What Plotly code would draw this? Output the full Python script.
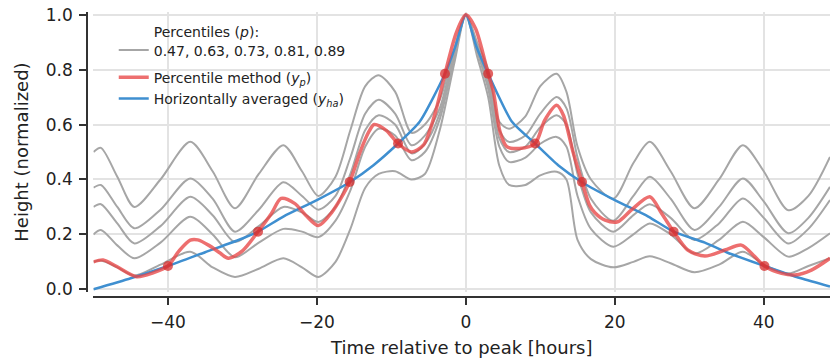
import plotly.graph_objects as go

# ---- data ----
t_knots = [-50, -49, -46.8, -44.5, -41, -37, -34, -31, -27.8, -24.5, -22, -19.8, -17.5, -15.5,
           -13.5, -11.7, -9.5, -7.3, -5.5, -3.5, -1.5, 0, 1.5, 3, 4.5, 5.8, 8, 10, 12.2, 13.5,
           15, 16.8, 19.8, 22.5, 24.7, 27.5, 30.7, 34, 37.2, 40, 43.3, 46, 48.9]

p89 = [0.50, 0.515, 0.41, 0.30, 0.40, 0.537, 0.43, 0.295, 0.42, 0.525, 0.43, 0.34, 0.41, 0.58,
       0.74, 0.78, 0.72, 0.57, 0.60, 0.69, 0.88, 1.0, 0.90, 0.80, 0.61, 0.585, 0.63, 0.74, 0.785,
       0.72, 0.52, 0.40, 0.33, 0.46, 0.537, 0.43, 0.295, 0.40, 0.525, 0.43, 0.288, 0.34, 0.482]
p81 = [0.37, 0.38, 0.30, 0.222, 0.29, 0.404, 0.33, 0.21, 0.29, 0.39, 0.34, 0.29, 0.34, 0.48,
       0.64, 0.69, 0.64, 0.525, 0.56, 0.66, 0.87, 1.0, 0.89, 0.77, 0.58, 0.537, 0.56, 0.64, 0.70,
       0.66, 0.48, 0.33, 0.25, 0.34, 0.41, 0.33, 0.216, 0.30, 0.404, 0.32, 0.204, 0.26, 0.373]
p73 = [0.30, 0.31, 0.24, 0.167, 0.23, 0.337, 0.27, 0.172, 0.23, 0.30, 0.28, 0.245, 0.30, 0.42,
       0.58, 0.634, 0.60, 0.495, 0.53, 0.64, 0.86, 1.0, 0.88, 0.75, 0.55, 0.50, 0.52, 0.59, 0.634,
       0.60, 0.42, 0.28, 0.21, 0.27, 0.31, 0.26, 0.18, 0.24, 0.331, 0.26, 0.167, 0.22, 0.325]
p63 = [0.20, 0.216, 0.16, 0.113, 0.17, 0.264, 0.20, 0.117, 0.17, 0.22, 0.21, 0.19, 0.25, 0.36,
       0.52, 0.585, 0.56, 0.47, 0.50, 0.62, 0.85, 1.0, 0.87, 0.73, 0.52, 0.464, 0.48, 0.53, 0.555,
       0.52, 0.34, 0.22, 0.155, 0.20, 0.24, 0.20, 0.13, 0.18, 0.246, 0.19, 0.119, 0.15, 0.204]
p47 = [0.10, 0.105, 0.08, 0.05, 0.09, 0.137, 0.08, 0.045, 0.075, 0.113, 0.08, 0.045, 0.10, 0.22,
       0.37, 0.42, 0.43, 0.40, 0.42, 0.58, 0.83, 1.0, 0.85, 0.70, 0.45, 0.38, 0.38, 0.415, 0.428,
       0.40, 0.18, 0.11, 0.08, 0.10, 0.12, 0.095, 0.062, 0.09, 0.137, 0.09, 0.058, 0.085, 0.113]

red_t = [-50, -48.7, -47, -44.2, -42, -40, -38.5, -37, -36, -34.5, -33, -31.9, -30, -27.9, -26.1,
         -24.8, -23, -21.5, -19.8, -18, -15.6, -14.2, -13, -12.3, -10.7, -9.1, -7.3, -5.7, -4.2,
         -2.8, -1.25, 0, 1.3, 3.0, 3.7, 4.6, 5.5, 7.2, 9.3, 10.6, 12.2, 13.1, 14.4, 15.6, 16.6,
         17.3, 18.7, 20.4, 22.2, 24.7, 26.3, 27.9, 29.8, 32.1, 34.8, 37.0, 38.8, 40.1, 42.4, 44.2,
         46.4, 48.9]
red_y = [0.10, 0.107, 0.085, 0.046, 0.06, 0.085, 0.14, 0.179, 0.18, 0.16, 0.132, 0.113, 0.14,
         0.21, 0.276, 0.331, 0.313, 0.27, 0.232, 0.28, 0.391, 0.50, 0.575, 0.60, 0.579, 0.531,
         0.50, 0.525, 0.634, 0.785, 0.937, 1.0, 0.95, 0.785, 0.72, 0.573, 0.52, 0.513, 0.531,
         0.616, 0.67, 0.634, 0.50, 0.391, 0.307, 0.28, 0.252, 0.246, 0.288, 0.337, 0.276, 0.21,
         0.143, 0.121, 0.143, 0.161, 0.119, 0.085, 0.058, 0.052, 0.07, 0.113]

blue_t = [-50, -45, -40, -35, -30, -27.9, -24.5, -20, -15.6, -12.4, -9.1, -6.2, -2.8, -1.4, 0,
          1.4, 3.0, 6.2, 9.3, 12.4, 15.6, 20, 24.5, 27.9, 32.1, 35, 40.1, 45, 48.9]
blue_y = [0.0, 0.04, 0.085, 0.135, 0.185, 0.21, 0.265, 0.325, 0.39, 0.452, 0.531, 0.61, 0.785,
          0.885, 1.0, 0.885, 0.785, 0.61, 0.531, 0.452, 0.39, 0.325, 0.265, 0.21, 0.17, 0.135,
          0.085, 0.04, 0.01]

cross_t = [-40, -27.9, -15.6, -9.1, -2.8, 3.0, 9.3, 15.6, 27.9, 40.1]
cross_y = [0.085, 0.21, 0.391, 0.531, 0.785, 0.785, 0.531, 0.391, 0.21, 0.085]

x_ticks = [-40, -20, 0, 20, 40]
y_ticks = [0.0, 0.2, 0.4, 0.6, 0.8, 1.0]
y_ticklabels = ["0.0", "0.2", "0.4", "0.6", "0.8", "1.0"]

GRAY = "#a6a6a6"
RED = "rgba(232,70,70,0.78)"
BLUE = "#3f8fd0"

fig = go.Figure()
for i, ys in enumerate([p47, p63, p73, p81, p89]):
    fig.add_trace(go.Scatter(
        x=t_knots, y=ys, mode="lines",
        line=dict(color=GRAY, width=2, shape="spline", smoothing=0.8),
        name="Percentiles (<i>p</i>):<br>0.47, 0.63, 0.73, 0.81, 0.89",
        legendgroup="pct", showlegend=(i == 0), legendrank=1, hoverinfo="skip"))

fig.add_trace(go.Scatter(
    x=blue_t, y=blue_y, mode="lines",
    line=dict(color=BLUE, width=2.5, shape="spline", smoothing=0.6),
    name="Horizontally averaged (<i>y<sub>ha</sub></i>)", legendgroup="est", legendrank=3))

fig.add_trace(go.Scatter(
    x=red_t, y=red_y, mode="lines",
    line=dict(color=RED, width=3.5, shape="spline", smoothing=0.8),
    name="Percentile method (<i>y<sub>p</sub></i>)", legendgroup="est", legendrank=2))

fig.add_trace(go.Scatter(
    x=cross_t, y=cross_y, mode="markers",
    marker=dict(color="rgba(215,45,45,0.75)", size=10, line=dict(width=0)),
    showlegend=False))

axis_common = dict(
    showgrid=True, gridcolor="#e3e3e3", gridwidth=1.5,
    showline=True, linecolor="#333333", linewidth=1.5,
    ticks="outside", ticklen=7, tickwidth=1.5, tickcolor="#333333",
    zeroline=False, anchor="free", position=0,
    tickfont=dict(size=17, color="#222222", family="DejaVu Sans"),
)

fig.update_layout(
    width=830, height=363,
    margin=dict(l=86.5, r=0, t=12, b=66),
    plot_bgcolor="white", paper_bgcolor="white",
    font=dict(family="DejaVu Sans", color="#222222"),
    xaxis=dict(domain=[0.0087, 1], range=[-50, 48.9], tickvals=x_ticks,
               ticklabelstandoff=3,
               title=dict(text="Time relative to peak [hours]", font=dict(size=18), standoff=9),
               **axis_common),
    yaxis=dict(domain=[0.0174, 1], range=[-0.01, 1.01], tickvals=y_ticks,
               ticktext=y_ticklabels, ticklabelstandoff=3,
               title=dict(text="Height (normalized)", font=dict(size=18), standoff=11),
               **axis_common),
    legend=dict(x=0.036, y=0.985, xanchor="left", yanchor="top",
                bgcolor="rgba(255,255,255,0)", font=dict(size=14),
                valign="bottom", tracegroupgap=6),
    showlegend=True,
)

fig.write_html("out.html")
